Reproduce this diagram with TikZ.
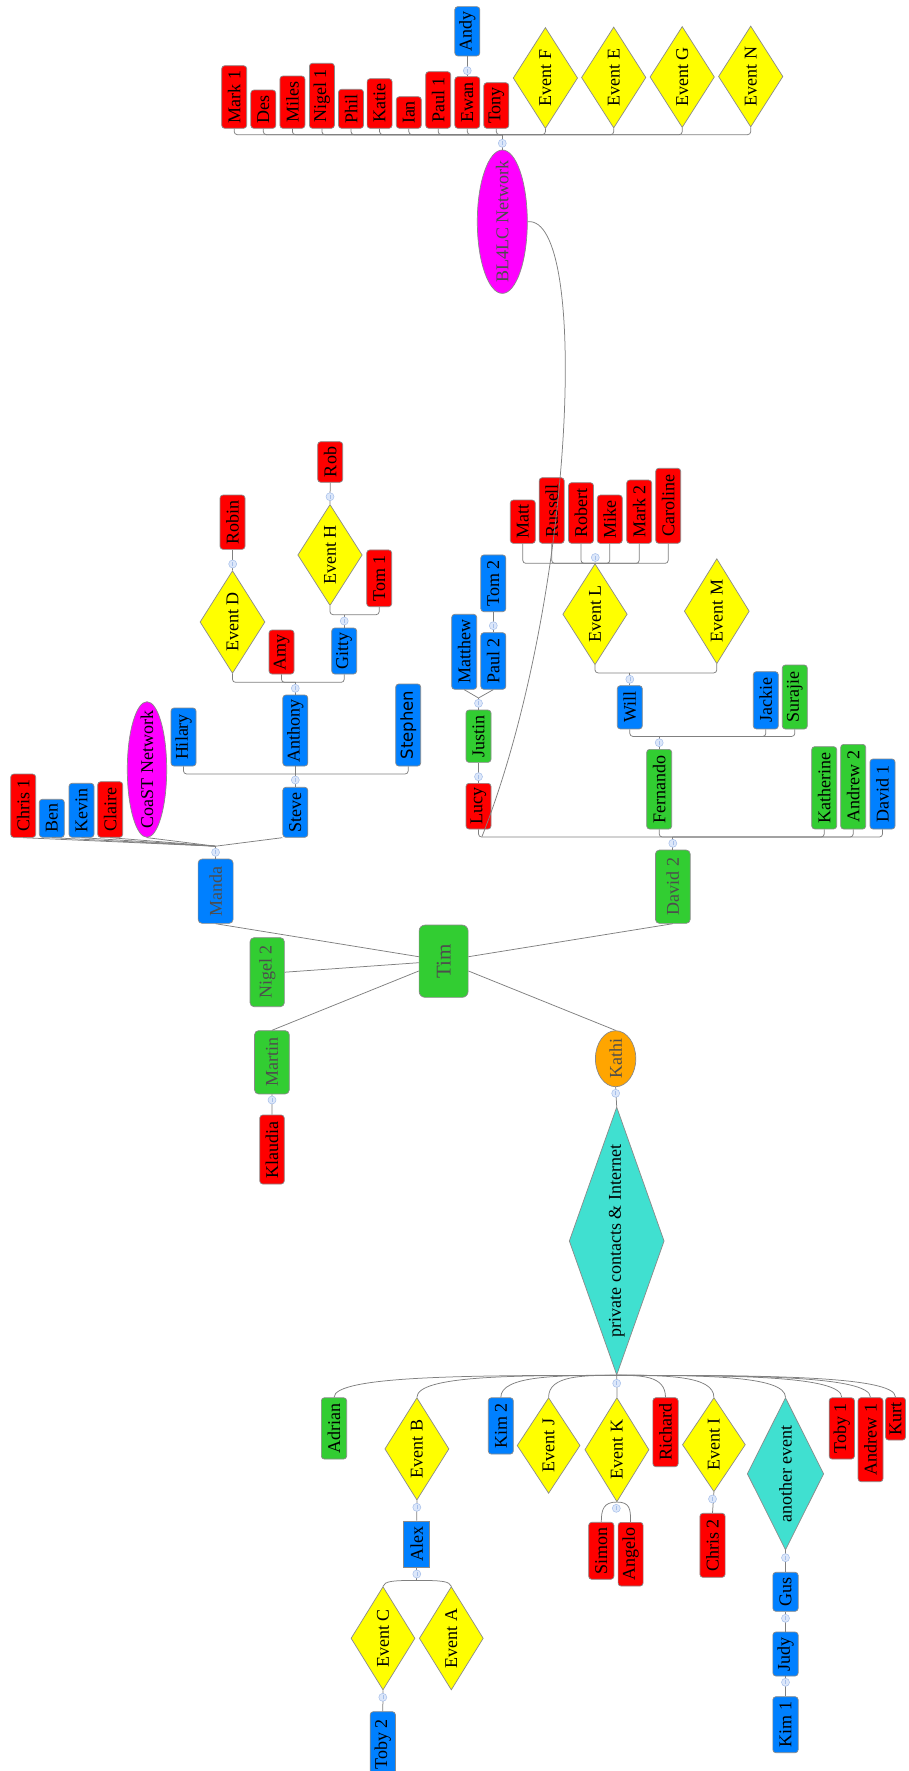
\documentclass[tikz,border=0pt]{standalone}
\usepackage{fontspec}
\usepackage{graphicx}
\setmainfont{Liberation Serif}
\newfontfamily\stephenfont{DejaVu Sans}
\usetikzlibrary{shapes.geometric,calc}

\definecolor{cRed}{HTML}{FF0000}
\definecolor{cBlue}{HTML}{0080FF}
\definecolor{cGreen}{HTML}{32CD32}
\definecolor{cYellow}{HTML}{FFFF00}
\definecolor{cMag}{HTML}{FF00FF}
\definecolor{cOrange}{HTML}{FFA500}
\definecolor{cTurq}{HTML}{40E0D0}
\definecolor{cBorder}{HTML}{8A8A8A}
\definecolor{lineC}{HTML}{808080}
\definecolor{knobF}{HTML}{DCE7FA}
\definecolor{knobB}{HTML}{A6BFEA}
\definecolor{fadedText}{HTML}{4D4D4D}

% rotated label, centred, with no height of its own so the shape size is set explicitly
\newcommand\vt[1]{\rotatebox{90}{\makebox[0pt]{#1}}}

\tikzset{
  every node/.style={font=\fontsize{18}{20}\selectfont},
  base/.style={draw=cBorder, line width=0.7pt, inner sep=0pt},
  sz/.style 2 args={minimum width=#1, minimum height=#2},
  rbox/.style={base, rectangle, rounded corners=3pt, fill=cRed},
  bbox/.style={base, rectangle, rounded corners=3pt, fill=cBlue},
  gbox/.style={base, rectangle, rounded corners=3pt, fill=cGreen},
  evt/.style={base, diamond, fill=cYellow, aspect=0.64, sz={64.5}{101}},
  faded/.style={text=fadedText},
  conn/.style={draw=lineC, line width=0.75pt},
  bracket/.style={conn, rounded corners=3pt},
  knob/.style={circle, draw=knobB, fill=knobF, line width=0.5pt, minimum size=8, inner sep=0pt,
    path picture={\draw[knobB, line width=0.5pt] ([yshift=-2pt]path picture bounding box.center) -- ([yshift=2pt]path picture bounding box.center);}},
}

\begin{document}
\begin{tikzpicture}[x=1pt, y=-1pt]
\useasboundingbox (0,0) rectangle (908,1771);
\fill[white] (0,0) rectangle (908,1771);
\clip (0,0) rectangle (908,1771);

% ---------------- BL4LC branch (top) ----------------
\node[rbox, sz={25}{62.6}] (mark1) at (234.2,97) {\vt{Mark 1}};
\node[rbox, sz={25}{38.3}] (des) at (263.3,109.2) {\vt{Des}};
\node[rbox, sz={25}{52.3}] (miles) at (292.4,102.2) {\vt{Miles}};
\node[rbox, sz={25}{65}] (nigel1) at (321.9,95.8) {\vt{Nigel 1}};
\node[rbox, sz={25}{39}] (phil) at (351,108.8) {\vt{Phil}};
\node[rbox, sz={25}{49.6}] (katie) at (379.6,103.5) {\vt{Katie}};
\node[rbox, sz={25}{31.6}] (ian) at (408.8,112.5) {\vt{Ian}};
\node[rbox, sz={25}{56.6}] (paul1) at (438.2,100) {\vt{Paul 1}};
\node[rbox, sz={25}{51.6}] (ewan) at (467.3,102.5) {\vt{Ewan}};
\node[rbox, sz={25}{45.6}] (tony) at (496.3,105.5) {\vt{Tony}};
\node[bbox, sz={25}{49.3}] (andy) at (467.3,31.3) {\vt{Andy}};
\node[evt] (evF) at (545.4,78) {\vt{Event F}};
\node[evt] (evE) at (613.7,77.5) {\vt{Event E}};
\node[evt] (evG) at (682.2,77) {\vt{Event G}};
\node[evt] (evN) at (750.7,76.5) {\vt{Event N}};
\node[base, ellipse, fill=cMag, faded, sz={50}{143.4}] (bl4lc) at (502.3,221.7) {\vt{BL4LC Network}};

% ---------------- Manda branch (left) ----------------
\node[rbox, sz={25}{40.6}] (rob) at (330.2,462) {\vt{Rob}};
\node[evt] (evH) at (330,555) {\vt{Event H}};
\node[rbox, sz={25}{56.7}] (tom1) at (379.2,578.3) {\vt{Tom 1}};
\node[rbox, sz={25}{54.3}] (robin) at (232.5,522.2) {\vt{Robin}};
\node[evt, sz={65}{102.6}] (evD) at (232.5,622) {\vt{Event D}};
\node[rbox, sz={25}{44}] (amy) at (281.5,652) {\vt{Amy}};
\node[bbox, sz={25}{46}] (gitty) at (344.2,651) {\vt{Gitty}};
\node[bbox, sz={25}{71}] (anthony) at (295.3,730.5) {\vt{Anthony}};
\node[bbox, sz={25}{58}] (hilary) at (183.5,737) {\vt{Hilary}};
\node[bbox, sz={25}{82}, font=\stephenfont\fontsize{16.5}{18}\selectfont] (stephen) at (408.2,725) {\vt{Stephen}};
\node[bbox, sz={25}{50}] (steve) at (295.3,812.3) {\vt{Steve}};
\node[base, ellipse, fill=cMag, sz={39.4}{135.6}] (coast) at (147,769.5) {\vt{CoaST Network}};
\node[rbox, sz={25}{55.6}] (claire) at (110.2,809.5) {\vt{Claire}};
\node[bbox, sz={25}{54}] (kevin) at (81.5,810.3) {\vt{Kevin}};
\node[bbox, sz={25}{38}] (ben) at (51.8,818.3) {\vt{Ben}};
\node[rbox, sz={25}{63.3}] (chris1) at (23.2,805.7) {\vt{Chris 1}};
\node[bbox, sz={35}{64.3}, rounded corners=4pt, faded] (manda) at (215.6,891.2) {\vt{Manda}};

% ---------------- David 2 branch (right) ----------------
\node[bbox, sz={25}{56.7}] (tom2) at (493.3,583.3) {\vt{Tom 2}};
\node[bbox, sz={25}{75}] (matthew) at (464.2,651.8) {\vt{Matthew}};
\node[bbox, sz={25}{56.6}] (paul2) at (493.3,661) {\vt{Paul 2}};
\node[gbox, sz={25}{52.3}] (justin) at (478.5,736.2) {\vt{Justin}};
\node[rbox, sz={25}{45.7}] (lucy) at (478.5,806.2) {\vt{Lucy}};
\node[rbox, sz={25}{43.3}] (matt) at (522.8,521.7) {\vt{Matt}};
\node[rbox, sz={25}{65.6}] (russell) at (551.7,510.5) {\vt{Russell}};
\node[rbox, sz={25}{60.6}] (robert) at (581,513) {\vt{Robert}};
\node[rbox, sz={25}{48.3}] (mike) at (609.8,519.2) {\vt{Mike}};
\node[rbox, sz={25}{63.3}] (mark2) at (639.2,511.7) {\vt{Mark 2}};
\node[rbox, sz={25}{75}] (caroline) at (668.2,505.8) {\vt{Caroline}};
\node[evt] (evL) at (595,614.2) {\vt{Event L}};
\node[evt, sz={65}{105}] (evM) at (716.8,611.2) {\vt{Event M}};
\node[bbox, sz={25}{43.3}] (will) at (629.8,707.3) {\vt{Will}};
\node[bbox, sz={25}{57.3}] (jackie) at (765.8,700.3) {\vt{Jackie}};
\node[gbox, sz={25}{64}] (surajie) at (794.8,697) {\vt{Surajie}};
\node[gbox, sz={25}{79.7}] (fernando) at (659.2,789.2) {\vt{Fernando}};
\node[gbox, sz={25}{82.3}] (katherine) at (824.2,787.8) {\vt{Katherine}};
\node[gbox, sz={25}{84.7}] (andrew2) at (853.2,786.7) {\vt{Andrew 2}};
\node[bbox, sz={25}{70}] (david1) at (882.5,794) {\vt{David 1}};
\node[gbox, sz={34.8}{73.3}, rounded corners=4pt, faded] (david2) at (672.8,886.7) {\vt{David 2}};

% ---------------- centre ----------------
\node[gbox, sz={49}{72.3}, rounded corners=6pt, faded, font=\fontsize{21}{24}\selectfont] (tim) at (443.6,961.2) {\vt{Tim}};
\node[gbox, sz={34.3}{69}, rounded corners=4pt, faded] (nigel2) at (267.2,972.2) {\vt{Nigel 2}};
\node[gbox, sz={34.7}{63.3}, rounded corners=4pt, faded] (martin) at (271.9,1062.3) {\vt{Martin}};
\node[rbox, sz={24.5}{69}] (klaudia) at (272,1149.5) {\vt{Klaudia}};
\node[base, ellipse, fill=cOrange, faded, sz={40.4}{56}] (kathi) at (615.6,1058.7) {\vt{Kathi}};
\node[base, diamond, fill=cTurq, aspect=0.35, sz={95}{268}] (pc) at (616.7,1241) {\vt{private contacts \& Internet}};

% ---------------- private contacts branch (bottom) ----------------
\node[gbox, sz={25.3}{61.3}] (adrian) at (334,1428.4) {\vt{Adrian}};
\node[evt, sz={64.2}{102.3}] (evB) at (416.9,1448.9) {\vt{Event B}};
\node[bbox, sz={25}{56.3}] (kim2) at (500.8,1425.9) {\vt{Kim 2}};
\node[evt, sz={63}{95.6}] (evJ) at (548.6,1445.5) {\vt{Event J}};
\node[evt, sz={64.2}{104}] (evK) at (616.9,1449.7) {\vt{Event K}};
\node[rbox, sz={25.3}{69}] (richard) at (665.5,1432.2) {\vt{Richard}};
\node[evt, sz={63}{94}] (evI) at (713.9,1444.7) {\vt{Event I}};
\node[base, diamond, fill=cTurq, aspect=0.5, sz={76.5}{152.3}] (another) at (785.5,1473.8) {\vt{another event}};
\node[rbox, sz={25.3}{61.3}] (toby1) at (841.8,1428.4) {\vt{Toby 1}};
\node[rbox, sz={25}{84}] (andrew1) at (870.5,1439.7) {\vt{Andrew 1}};
\node[rbox, sz={20}{42.7}] (kurt) at (895.5,1418.7) {\vt{Kurt}};
\node[base, rectangle, fill=cBlue, sz={26}{46.3}] (alex) at (416.8,1544.2) {\vt{Alex}};
\node[evt, sz={64}{103.3}] (evC) at (383,1638.3) {\vt{Event C}};
\node[evt, sz={64}{103.3}] (evA) at (451.3,1638.3) {\vt{Event A}};
\node[bbox, sz={25.2}{65}] (toby2) at (382.8,1744.2) {\vt{Toby 2}};
\node[rbox, sz={25.2}{57}] (simon) at (601.3,1550.8) {\vt{Simon}};
\node[rbox, sz={25}{63.7}] (angelo) at (630.6,1554.2) {\vt{Angelo}};
\node[rbox, sz={25.2}{64}] (chris2) at (712.5,1545.3) {\vt{Chris 2}};
\node[bbox, sz={25.3}{39}] (gus) at (785.5,1591.8) {\vt{Gus}};
\node[bbox, sz={25.3}{44}] (judy) at (785.5,1654) {\vt{Judy}};
\node[bbox, sz={25.3}{56}] (kim1) at (785.5,1724.7) {\vt{Kim 1}};

% ---------------- junction points ----------------
\coordinate (jBL) at ($(bl4lc.north)+(0,-15)$);
\coordinate (jSt) at ($(steve.north)+(0,-13)$);
\coordinate (jAn) at ($(anthony.north)+(0,-12.3)$);
\coordinate (jGi) at ($(gitty.north)+(0,-13)$);
\coordinate (jDa) at ($(david2.north)+(0,-12.7)$);
\coordinate (jFe) at ($(fernando.north)+(0,-12.6)$);
\coordinate (jWi) at ($(will.north)+(0,-12.4)$);
\coordinate (jEL) at (evL.north);
\coordinate (jMa) at ($(manda.north)+(0,-12.5)$);
\coordinate (jJu) at ($(justin.north)+(0,-11.7)$);
\coordinate (jAl) at ($(alex.south)+(0,12.7)$);
\coordinate (xl) at (482,836.5);

% ---------------- connectors ----------------
% edges around the root
\draw[conn] ($(tim.west)+(0,-4.5)$) -- (manda.south);
\draw[conn] ($(tim.west)+(0,1.5)$) -- (nigel2.east);
\draw[conn] ($(tim.west)+(0,9.8)$) -- (martin.north);
\draw[conn] ($(tim.east)+(0,-4.5)$) -- (david2.south);
\draw[conn] ($(tim.east)+(0,9.8)$) -- (kathi.north);

% org-chart brackets
\foreach \c in {mark1,des,miles,nigel1,phil,katie,ian,paul1,ewan,tony,evF,evE,evG,evN}
  \draw[bracket] (\c.south) |- (jBL);
\draw[conn] (bl4lc.north) -- (jBL);
\foreach \c in {hilary,anthony,stephen} \draw[bracket] (\c.south) |- (jSt);
\draw[conn] (steve.north) -- (jSt);
\foreach \c in {evD,amy,gitty} \draw[bracket] (\c.south) |- (jAn);
\draw[conn] (anthony.north) -- (jAn);
\foreach \c in {evH,tom1} \draw[bracket] (\c.south) |- (jGi);
\draw[conn] (gitty.north) -- (jGi);
\foreach \c in {lucy,fernando,katherine,andrew2,david1} \draw[bracket] (\c.south) |- (jDa);
\draw[conn] (david2.north) -- (jDa);
\foreach \c in {will,jackie,surajie} \draw[bracket] (\c.south) |- (jFe);
\draw[conn] (fernando.north) -- (jFe);
\foreach \c in {evL,evM} \draw[bracket] (\c.south) |- (jWi);
\draw[conn] (will.north) -- (jWi);
\foreach \c in {matt,russell,robert,mike,mark2,caroline} \draw[bracket] (\c.south) |- (jEL);

% fans of straight lines
\foreach \c in {chris1,ben,kevin,claire,coast} \draw[conn] (\c.south) -- (jMa);
\draw[conn] (steve.south west) -- (jMa);
\draw[conn] (manda.north) -- (jMa);
\draw[conn] (matthew.south) -- (jJu);
\draw[conn] (paul2.south) -- (jJu);
\draw[conn] (justin.north) -- (jJu);

% single chains
\draw[conn] (andy.south) -- (ewan.north);
\draw[conn] (rob.south) -- (evH.north);
\draw[conn] (robin.south) -- (evD.north);
\draw[conn] (tom2.south) -- (paul2.north);
\draw[conn] (justin.south) -- (lucy.north);
\draw[conn] (martin.south) -- (klaudia.north);
\draw[conn] (kathi.south) -- (pc.north);
\draw[conn] (evB.south) -- (alex.north);
\draw[conn] (alex.south) -- (jAl);
\draw[conn] (evC.south) -- (toby2.north);
\draw[conn] (evI.south) -- (chris2.north);
\draw[conn] (another.south) -- (gus.north);
\draw[conn] (gus.south) -- (judy.north);
\draw[conn] (judy.south) -- (kim1.north);

% curved fan below the private contacts diamond
\foreach \c in {adrian,evB,kim2,evJ,evK,richard,evI,another,toby1,andrew1,kurt}
  \draw[conn] (pc.south) .. controls ($(pc.south)!0.5!(\c.north |- pc.south)$) and (\c.north |- pc.south) .. (\c.north);
\draw[conn] (evK.south) .. controls +(-13,0) and +(0,-13) .. (simon.north);
\draw[conn] (evK.south) .. controls +(13,0) and +(0,-13) .. (angelo.north);
\draw[conn] (jAl) .. controls +(-26,0) and +(2,-5) .. (evC.north);
\draw[conn] (jAl) .. controls +(26,0) and +(-2,-5) .. (evA.north);

% cross link from the BL4LC network down to Lucy
\draw[conn] (bl4lc.east) .. controls (590,215) and (575,600) .. (xl);

% ---------------- fold knobs ----------------
\node[knob] (k1) at (467.3,70.7) {};
\node[knob] (k2) at (502.3,143.3) {};
\node[knob] (k3) at (232.7,564) {};
\node[knob] (k4) at (330,496.7) {};
\node[knob] (k5) at (344.2,621) {};
\node[knob] (k6) at (295.3,688.3) {};
\node[knob] (k7) at (295.3,780) {};
\node[knob] (k8) at (215.6,852.3) {};
\node[knob] (k9) at (478.5,703.3) {};
\node[knob] (k10) at (493.3,625.7) {};
\node[knob] (k11) at (478.5,776.7) {};
\node[knob] (k12) at (672.8,843.3) {};
\node[knob] (k13) at (659.2,742.7) {};
\node[knob] (k14) at (629.8,679.3) {};
\node[knob] (k15) at (595.3,557.5) {};
\node[knob] (k16) at (272,1100) {};
\node[knob] (k17) at (615.7,1093.3) {};
\node[knob] (k18) at (616.7,1383.3) {};
\node[knob] (k19) at (416.8,1507.3) {};
\node[knob] (k20) at (416.8,1574) {};
\node[knob] (k21) at (382.8,1697.3) {};
\node[knob] (k22) at (616.3,1508.3) {};
\node[knob] (k23) at (712.5,1499) {};
\node[knob] (k24) at (785.5,1557.7) {};
\node[knob] (k25) at (785.5,1618.3) {};
\node[knob] (k26) at (785.5,1682.3) {};
\end{tikzpicture}
\end{document}
